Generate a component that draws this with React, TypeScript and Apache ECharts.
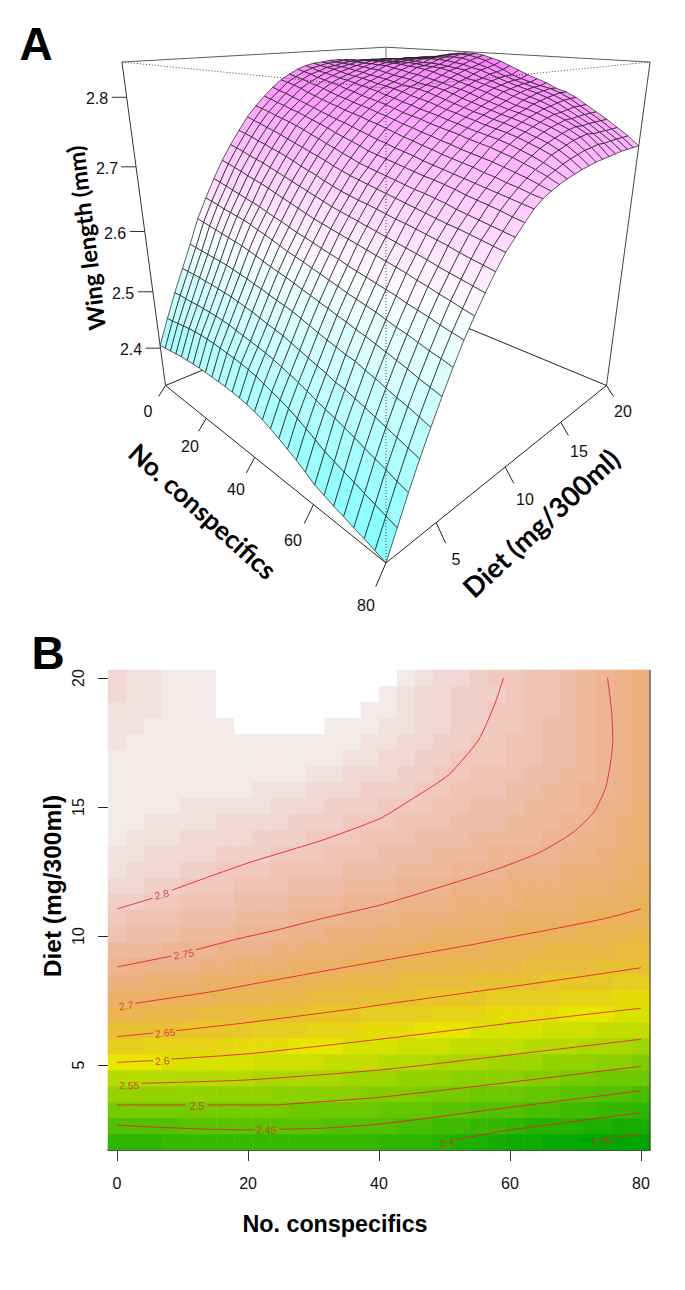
import React, { useEffect, useRef } from "react";
import * as echarts from "echarts";

// No. conspecifics grid (30 values, 0..80) and diet grid (30 values, 2..20)
const conspecificTicks = [0, 20, 40, 60, 80];
const dietTicks3d = [5, 10, 15, 20];
const dietTicks2d = [5, 10, 15, 20];
const wingTicks = [2.4, 2.5, 2.6, 2.7, 2.8];
const conspecificGrid = Array.from({ length: 30 }, (_, i) => (80 * i) / 29);
const dietGrid = Array.from({ length: 30 }, (_, j) => 2 + (18 * j) / 29);

// wing length: one row per diet level (low diet first), one column per conspecific level
const wingLength: number[][] = [
  [2.405,2.407,2.409,2.411,2.413,2.414,2.415,2.416,2.416,2.416,2.416,2.416,2.415,2.414,2.412,2.409,2.405,2.400,2.394,2.387,2.380,2.372,2.363,2.358,2.353,2.349,2.344,2.340,2.335,2.330],
  [2.447,2.449,2.451,2.453,2.455,2.456,2.457,2.457,2.457,2.456,2.455,2.454,2.453,2.451,2.448,2.444,2.440,2.436,2.431,2.425,2.418,2.411,2.403,2.398,2.393,2.388,2.383,2.378,2.373,2.368],
  [2.487,2.488,2.488,2.488,2.489,2.489,2.489,2.489,2.488,2.487,2.485,2.483,2.481,2.479,2.477,2.474,2.470,2.466,2.462,2.457,2.452,2.447,2.443,2.438,2.433,2.427,2.422,2.417,2.411,2.406],
  [2.524,2.524,2.524,2.524,2.523,2.523,2.522,2.521,2.520,2.518,2.516,2.514,2.511,2.508,2.506,2.503,2.499,2.495,2.491,2.487,2.483,2.478,2.476,2.471,2.467,2.462,2.457,2.452,2.447,2.442],
  [2.561,2.560,2.559,2.558,2.557,2.556,2.555,2.553,2.551,2.549,2.546,2.544,2.541,2.538,2.536,2.533,2.529,2.525,2.521,2.517,2.514,2.510,2.508,2.503,2.499,2.494,2.489,2.485,2.480,2.475],
  [2.600,2.598,2.596,2.594,2.592,2.590,2.588,2.586,2.583,2.580,2.576,2.573,2.570,2.567,2.564,2.560,2.557,2.553,2.550,2.546,2.543,2.539,2.536,2.532,2.528,2.524,2.520,2.515,2.511,2.507],
  [2.631,2.629,2.627,2.624,2.622,2.620,2.618,2.615,2.611,2.608,2.604,2.600,2.596,2.593,2.590,2.586,2.583,2.579,2.576,2.572,2.569,2.566,2.563,2.559,2.555,2.552,2.548,2.544,2.541,2.537],
  [2.660,2.657,2.654,2.651,2.648,2.645,2.642,2.639,2.635,2.631,2.628,2.624,2.620,2.617,2.614,2.610,2.607,2.604,2.600,2.597,2.594,2.591,2.588,2.585,2.581,2.578,2.575,2.571,2.568,2.565],
  [2.687,2.684,2.681,2.678,2.674,2.671,2.668,2.664,2.660,2.656,2.652,2.648,2.644,2.640,2.637,2.634,2.631,2.628,2.625,2.622,2.619,2.616,2.613,2.610,2.606,2.603,2.599,2.596,2.592,2.589],
  [2.710,2.707,2.704,2.700,2.697,2.694,2.690,2.686,2.682,2.678,2.674,2.670,2.666,2.662,2.658,2.655,2.652,2.649,2.646,2.643,2.640,2.637,2.634,2.631,2.628,2.624,2.621,2.618,2.615,2.612],
  [2.731,2.728,2.725,2.721,2.718,2.714,2.711,2.707,2.703,2.698,2.694,2.690,2.685,2.681,2.677,2.674,2.671,2.669,2.666,2.663,2.660,2.658,2.655,2.652,2.649,2.646,2.642,2.639,2.636,2.633],
  [2.751,2.747,2.744,2.740,2.737,2.733,2.729,2.725,2.721,2.717,2.713,2.709,2.704,2.700,2.696,2.693,2.690,2.687,2.684,2.681,2.678,2.675,2.672,2.669,2.666,2.664,2.661,2.658,2.655,2.652],
  [2.767,2.764,2.761,2.757,2.754,2.751,2.747,2.743,2.738,2.734,2.729,2.725,2.720,2.716,2.711,2.708,2.705,2.702,2.699,2.696,2.693,2.691,2.688,2.685,2.681,2.678,2.675,2.672,2.669,2.666],
  [2.781,2.778,2.774,2.771,2.767,2.764,2.760,2.756,2.752,2.748,2.743,2.739,2.735,2.731,2.726,2.723,2.720,2.717,2.714,2.711,2.708,2.706,2.703,2.700,2.696,2.693,2.690,2.687,2.683,2.680],
  [2.794,2.790,2.787,2.783,2.779,2.775,2.771,2.767,2.763,2.759,2.756,2.752,2.748,2.744,2.740,2.737,2.733,2.730,2.727,2.723,2.720,2.717,2.714,2.711,2.708,2.705,2.702,2.699,2.696,2.693],
  [2.805,2.802,2.799,2.795,2.790,2.786,2.782,2.778,2.775,2.771,2.768,2.765,2.761,2.758,2.754,2.750,2.746,2.743,2.739,2.736,2.732,2.729,2.726,2.723,2.719,2.716,2.712,2.709,2.705,2.702],
  [2.813,2.810,2.807,2.803,2.800,2.796,2.792,2.788,2.785,2.781,2.778,2.775,2.771,2.768,2.764,2.760,2.757,2.753,2.750,2.746,2.743,2.739,2.736,2.733,2.730,2.726,2.722,2.718,2.713,2.708],
  [2.820,2.817,2.814,2.810,2.807,2.804,2.801,2.797,2.794,2.790,2.787,2.784,2.781,2.777,2.773,2.770,2.767,2.763,2.760,2.757,2.754,2.750,2.747,2.744,2.740,2.736,2.731,2.726,2.720,2.713],
  [2.825,2.822,2.818,2.816,2.813,2.810,2.808,2.805,2.802,2.799,2.796,2.792,2.789,2.785,2.782,2.778,2.775,2.772,2.768,2.765,2.761,2.758,2.755,2.752,2.748,2.743,2.738,2.732,2.725,2.717],
  [2.828,2.825,2.823,2.821,2.818,2.815,2.813,2.811,2.808,2.805,2.803,2.800,2.797,2.793,2.790,2.787,2.783,2.779,2.776,2.772,2.769,2.765,2.762,2.759,2.755,2.750,2.745,2.739,2.730,2.720],
  [2.829,2.828,2.825,2.824,2.822,2.820,2.818,2.815,2.813,2.811,2.808,2.805,2.803,2.801,2.798,2.794,2.790,2.786,2.782,2.778,2.775,2.771,2.768,2.764,2.760,2.755,2.750,2.743,2.734,2.723],
  [2.831,2.829,2.828,2.827,2.826,2.825,2.823,2.822,2.819,2.816,2.814,2.812,2.808,2.806,2.804,2.801,2.797,2.792,2.788,2.784,2.780,2.776,2.773,2.769,2.765,2.760,2.754,2.747,2.737,2.725],
  [2.831,2.831,2.830,2.830,2.829,2.829,2.828,2.828,2.825,2.823,2.820,2.818,2.815,2.812,2.809,2.805,2.802,2.798,2.793,2.789,2.785,2.781,2.778,2.774,2.769,2.764,2.758,2.751,2.740,2.727],
  [2.830,2.831,2.831,2.832,2.832,2.832,2.831,2.831,2.830,2.828,2.827,2.825,2.822,2.818,2.815,2.811,2.807,2.803,2.799,2.794,2.790,2.785,2.782,2.778,2.773,2.767,2.761,2.753,2.741,2.728],
  [2.828,2.829,2.831,2.832,2.832,2.832,2.832,2.832,2.832,2.831,2.829,2.828,2.827,2.824,2.820,2.815,2.812,2.808,2.804,2.800,2.795,2.791,2.787,2.782,2.776,2.770,2.763,2.755,2.743,2.729],
  [2.826,2.828,2.831,2.832,2.833,2.834,2.834,2.834,2.833,2.832,2.832,2.831,2.829,2.827,2.825,2.820,2.815,2.812,2.807,2.803,2.799,2.794,2.790,2.784,2.777,2.770,2.762,2.753,2.742,2.730],
  [2.823,2.826,2.829,2.832,2.833,2.834,2.8345,2.835,2.836,2.837,2.837,2.836,2.834,2.832,2.828,2.825,2.820,2.815,2.810,2.806,2.802,2.798,2.793,2.787,2.779,2.771,2.763,2.753,2.743,2.731],
  [2.820,2.823,2.826,2.829,2.832,2.8345,2.8355,2.836,2.837,2.839,2.840,2.841,2.840,2.837,2.832,2.828,2.822,2.817,2.812,2.808,2.804,2.800,2.795,2.789,2.781,2.772,2.763,2.753,2.743,2.731],
  [2.818,2.821,2.825,2.828,2.832,2.834,2.8355,2.836,2.838,2.841,2.843,2.845,2.844,2.841,2.837,2.831,2.825,2.818,2.813,2.809,2.805,2.802,2.797,2.790,2.781,2.772,2.763,2.753,2.743,2.731],
  [2.818,2.820,2.823,2.827,2.829,2.832,2.836,2.837,2.840,2.843,2.845,2.846,2.846,2.844,2.840,2.836,2.830,2.824,2.818,2.813,2.808,2.801,2.797,2.790,2.781,2.772,2.763,2.753,2.743,2.731],
];

// contour levels: segments of [conspecifics, diet]
const contour280 = [
  [[0,11.05],[5.4,11.46]],
  [[8.4,11.78],[20,12.83],[31.4,13.72],[40.2,14.56],[45.3,15.35],[50.6,16.24],[55.2,17.6],[57.8,19.07],[59,20]],
];
const contour275 = [
  [[0,8.8],[8.3,9.22]],
  [[12,9.46],[18.3,9.88],[24.4,10.23],[31.7,10.7],[40.2,11.2],[50.4,11.98],[58.5,12.64],[64.7,13.26],[69.7,14.03],[72.8,14.8],[74.6,15.74],[75.4,16.8],[75.7,17.6],[75.5,18.76],[74.9,20]],
];
const contour270 = [
  [[2.76,7.39],[15.2,7.87],[19.9,8.1],[40.1,9.03],[53.9,9.65],[58.5,9.88],[68.2,10.35],[74.9,10.7],[80,11.05]],
];
const contour265 = [
  [[0,6.1],[5.5,6.24]],
  [[9,6.33],[19.8,6.64],[36,7.17],[40.2,7.33],[60,8.03],[70.8,8.42],[80,8.77]],
];
const contour260 = [
  [[0,5.1],[5.5,5.17]],
  [[8.3,5.23],[19.8,5.43],[40.2,6],[60,6.62],[80,7.2]],
];
const contour255 = [
  [[3.7,4.29],[19.8,4.42],[40.2,4.81],[60,5.39],[80,6]],
];
const contour250 = [
  [[0,3.45],[10.4,3.45]],
  [[13.8,3.45],[23.3,3.45],[31.4,3.58],[40.2,3.75],[60,4.33],[80,4.95]],
];
const contour245 = [
  [[0,2.67],[4.2,2.61],[12.6,2.52],[21,2.48]],
  [[24.7,2.51],[31.4,2.55],[40.2,2.71],[60,3.36],[80,4]],
];
const contour240 = [
  [[52,2.12],[60,2.48],[80,3.15]],
];
const contour235 = [
  [[75.7,2.2],[80,2.31]],
];
const contours = [contour280, contour275, contour270, contour265, contour260, contour255, contour250, contour245, contour240, contour235];
const contourLabels: [string, number, number, number][] = [
  ["2.8", 6.85, 11.6, 13],
  ["2.75", 10.2, 9.3, 9],
  ["2.7", 1.4, 7.29, 8],
  ["2.65", 7.35, 6.23, 5],
  ["2.6", 6.9, 5.17, 3],
  ["2.55", 1.84, 4.22, 1],
  ["2.5", 12.2, 3.41, 0],
  ["2.45", 22.8, 2.48, -2],
  ["2.4", 50.4, 1.99, 10],
  ["2.35", 74, 2.03, 8],
];

// ---- palettes
function hsv(h: number, s: number, v: number) {
  const f = (n: number) => {
    const k = (n + h * 6) % 6;
    return Math.round(255 * (v - v * s * Math.max(0, Math.min(k, 4 - k, 1))));
  };
  return `rgb(${f(5)},${f(3)},${f(1)})`;
}
function terrain(k: number) {
  if (k <= 24) {
    const t = k / 24;
    return hsv(1 / 3 - t / 6, 1, 0.65 + 0.25 * t);
  }
  const t = Math.min(1, (k - 24) / 22.7);
  return hsv((1 - t) / 6, 1 - t, 0.9 + 0.05 * t);
}
const bandCount = 47;
function bandEdge(k: number) {
  const e = 2.8455 - 0.0109 * (bandCount - k);
  return e > 2.8 ? 2.8 + (e - 2.8) * 0.769 : e;
}
const pieces = Array.from({ length: bandCount }, (_, k) => ({
  gte: k === 0 ? 2 : bandEdge(k),
  lt: bandEdge(k + 1),
  color: terrain(k),
}));
const Z_MIN = 2.33;
const Z_RANGE = 0.518;
function cm(z: number) {
  const k = Math.max(0, Math.min(49, Math.floor(((z - Z_MIN) / Z_RANGE) * 50)));
  if (k < 25) return hsv(0.5, 0.5 * (1 - k / 25), 1);
  return hsv(5 / 6, 0.5 * ((k - 24) / 25), 1);
}

// ---- perspective of panel A
function project(x: number, d: number, z: number): [number, number] {
  const a = x / 40 - 1;
  const b = (d - 11) / 9;
  const c = (z - Z_MIN) / Z_RANGE;
  const p = (a + b) / 2;
  const q = (a - b) / 2;
  const w = 1 - 0.32 * q - 0.165 * c;
  return [386 + (220.5 * p) / w, (-2.7 * q - 333.7 * c + 385.5) / w];
}
function depthW(x: number, d: number) {
  const q = (x / 40 - 1 - (d - 11) / 9) / 2;
  return 1 - 0.32 * q;
}
const X0 = 0, X1 = 80, D0 = 2, D1 = 20, ZT = Z_MIN + Z_RANGE;

const facets: number[][] = [];
for (let j = 28; j >= 0; j--) for (let i = 0; i < 29; i++) facets.push([i, j]);

function lineA(points: [number, number][], color: string, width: number, z: number, dash?: number[]) {
  return {
    type: "line", xAxisIndex: 2, yAxisIndex: 2, data: points, showSymbol: false, symbol: "none",
    silent: true, z, lineStyle: { color, width, type: dash || "solid" }, clip: false,
  };
}

const SANS = '"Liberation Sans", Arial, sans-serif';
const BOLD3D = "Lato, sans-serif";
function txt(text: string, x: number, y: number, font: string, rotationDeg = 0, fill = "#111") {
  return {
    type: "text", x, y, rotation: (rotationDeg * Math.PI) / 180, silent: true, z: 20,
    style: { text, x: 0, y: 0, font, fill, align: "center", verticalAlign: "middle", textAlign: "center", textVerticalAlign: "middle" },
  };
}

export default function App() {
  const ref = useRef<HTMLDivElement>(null);
  useEffect(() => {
    document.body.style.margin = "0";
    const chart = echarts.init(ref.current!, undefined, { renderer: "svg" });

    const heat: number[][] = [];
    wingLength.forEach((row, j) => row.forEach((v, i) => heat.push([i, j, v])));

    const series: any[] = [
      {
        type: "heatmap", xAxisIndex: 1, yAxisIndex: 1, data: heat, silent: true, z: 1,
        progressive: 0, emphasis: { disabled: true },
      },
    ];
    contours.forEach((segs) =>
      segs.forEach((seg) =>
        series.push({
          type: "line", xAxisIndex: 0, yAxisIndex: 0, data: seg, showSymbol: false, symbol: "none", smooth: 0.2,
          silent: true, z: 3, lineStyle: { color: "#e8202a", width: 1, opacity: 0.88 },
        })
      )
    );
    series.push({
      type: "scatter", xAxisIndex: 0, yAxisIndex: 0, symbolSize: 0, silent: true, z: 4,
      data: contourLabels.map((l) => ({
        value: [l[1], l[2]],
        label: { show: true, position: "inside", formatter: l[0], rotate: l[3], color: "#d8232a", fontSize: 10.5, fontFamily: SANS },
      })),
    });

    // panel A: back of the box, surface, front of the box
    const LB = project(X0, D0, Z_MIN), CB = project(X1, D0, Z_MIN), RB = project(X1, D1, Z_MIN), BB = project(X0, D1, Z_MIN);
    const LT = project(X0, D0, ZT), CT = project(X1, D0, ZT + 0.006), RT = project(X1, D1, ZT), BT = project(X0, D1, ZT);
    series.push(lineA([LB, BB, RB], "#222", 1, 5));
    series.push(lineA([LT, BT, RT], "#5a5a5a", 1, 5));
    series.push(lineA([BB, BT], "#777", 1, 5));
    series.push(lineA([LB, LT], "#333", 1, 5));
    series.push(lineA([RB, RT], "#444", 1, 5));
    series.push({
      type: "custom", xAxisIndex: 2, yAxisIndex: 2, data: facets, silent: true, z: 6, clip: false,
      encode: { x: 0, y: 1 },
      renderItem: (_: any, api: any) => {
        const i = api.value(0), j = api.value(1);
        const corners: [number, number][] = [[i, j], [i + 1, j], [i + 1, j + 1], [i, j + 1]];
        let sum = 0;
        const pts = corners.map(([ci, cj]) => {
          const z = wingLength[cj][ci];
          sum += z;
          return api.coord(project(conspecificGrid[ci], dietGrid[cj], z));
        });
        return { type: "polygon", shape: { points: pts }, style: { fill: cm(sum / 4), stroke: "#1a1a1a", lineWidth: 0.7 } };
      },
    });
    series.push(lineA([LB, CB, RB], "#222", 1, 7));
    series.push(lineA([LT, CT, RT], "#444", 1, 7, [1, 2]));
    series.push(lineA([CB, CT], "#444", 1, 7, [1, 2]));
    conspecificTicks.forEach((x) => {
      const b = project(x, D0, Z_MIN);
      const w = depthW(x, D0);
      series.push(lineA([b, [b[0] - 7 / w, b[1] + 11 / w / w]], "#222", 1, 7));
    });
    dietTicks3d.forEach((d) => {
      const b = project(X1, d, Z_MIN);
      const w = depthW(X1, d);
      series.push(lineA([b, [b[0] + 7 / w, b[1] + 11 / w / w]], "#222", 1, 7));
    });
    wingTicks.forEach((z) => {
      const b = project(X0, D0, z);
      series.push(lineA([b, [b[0] - 15, b[1]]], "#333", 1, 7));
    });

    const axisText = `16px ${SANS}`;
    const graphicEls: any[] = [
      txt("A", 36, 44, `bold 46px ${SANS}`, 0, "#000"),
      txt("B", 48, 653, `bold 46px ${SANS}`, 0, "#000"),
      txt("2.8", 97, 98, axisText), txt("2.7", 107, 168, axisText), txt("2.6", 115, 233, axisText),
      txt("2.5", 123, 293, axisText), txt("2.4", 131, 349, axisText),
      txt("0", 148, 411, axisText), txt("20", 190, 446, axisText), txt("40", 236, 489, axisText),
      txt("60", 293, 540, axisText), txt("80", 366, 605, axisText),
      txt("5", 456, 559, axisText), txt("10", 525, 499, axisText), txt("15", 579, 451, axisText), txt("20", 623, 411, axisText),
      txt("Wing length (mm)", 86, 238, `bold 23.5px ${BOLD3D}`, 96.9, "#000"),
      txt("No. conspecifics", 203, 511, `bold 26px ${BOLD3D}`, -42, "#000"),
      txt("Diet (mg/300ml)", 541, 523, `bold 27.5px ${BOLD3D}`, 43, "#000"),
      txt("No. conspecifics", 335, 1224, `bold 23.3px ${SANS}`, 0, "#000"),
      txt("Diet (mg/300ml)", 52, 886, `bold 24.5px ${SANS}`, 90, "#000"),
      { type: "line", z: 20, silent: true, shape: { x1: 650, y1: 670, x2: 650, y2: 1150 }, style: { stroke: "#333", lineWidth: 1 } },
    ];

    chart.setOption({
      animation: false,
      backgroundColor: "#fff",
      textStyle: { fontFamily: SANS },
      tooltip: { show: false },
      visualMap: {
        show: false, type: "piecewise", seriesIndex: 0, dimension: 2, pieces,
        outOfRange: { color: "#ffffff" },
      },
      grid: [
        { left: 108, top: 670, width: 542, height: 480, containLabel: false },
        { left: 0, top: 0, width: 685, height: 640, containLabel: false },
      ],
      xAxis: [
        {
          type: "value", gridIndex: 0, min: -1.38, max: 81.38, position: "bottom",
          splitLine: { show: false },
          axisLine: { show: true, onZero: false, lineStyle: { color: "#111", width: 1.5 } },
          axisTick: { show: true, length: 11, customValues: conspecificTicks, lineStyle: { color: "#333" } },
          axisLabel: { customValues: conspecificTicks, margin: 25, color: "#111", fontSize: 16, fontFamily: SANS, showMinLabel: true, showMaxLabel: true },
        },
        { type: "category", gridIndex: 0, show: false, data: conspecificGrid.map((_, i) => i), boundaryGap: true },
        { type: "value", gridIndex: 1, show: false, min: 0, max: 685 },
      ],
      yAxis: [
        {
          type: "value", gridIndex: 0, min: 1.705, max: 20.31,
          splitLine: { show: false },
          axisLine: { show: false, onZero: false },
          axisTick: { show: true, length: 10, customValues: dietTicks2d, lineStyle: { color: "#222" } },
          axisLabel: { customValues: dietTicks2d, rotate: 90, margin: 22, color: "#111", fontSize: 16, fontFamily: SANS },
        },
        { type: "category", gridIndex: 0, show: false, data: dietGrid.map((_, i) => i), boundaryGap: true },
        { type: "value", gridIndex: 1, show: false, min: 0, max: 640, inverse: true },
      ],
      series,
      graphic: { elements: graphicEls },
    });
    return () => chart.dispose();
  }, []);
  return <div ref={ref} style={{ position: "absolute", left: 0, top: 0, width: 685, height: 1290 }} />;
}
